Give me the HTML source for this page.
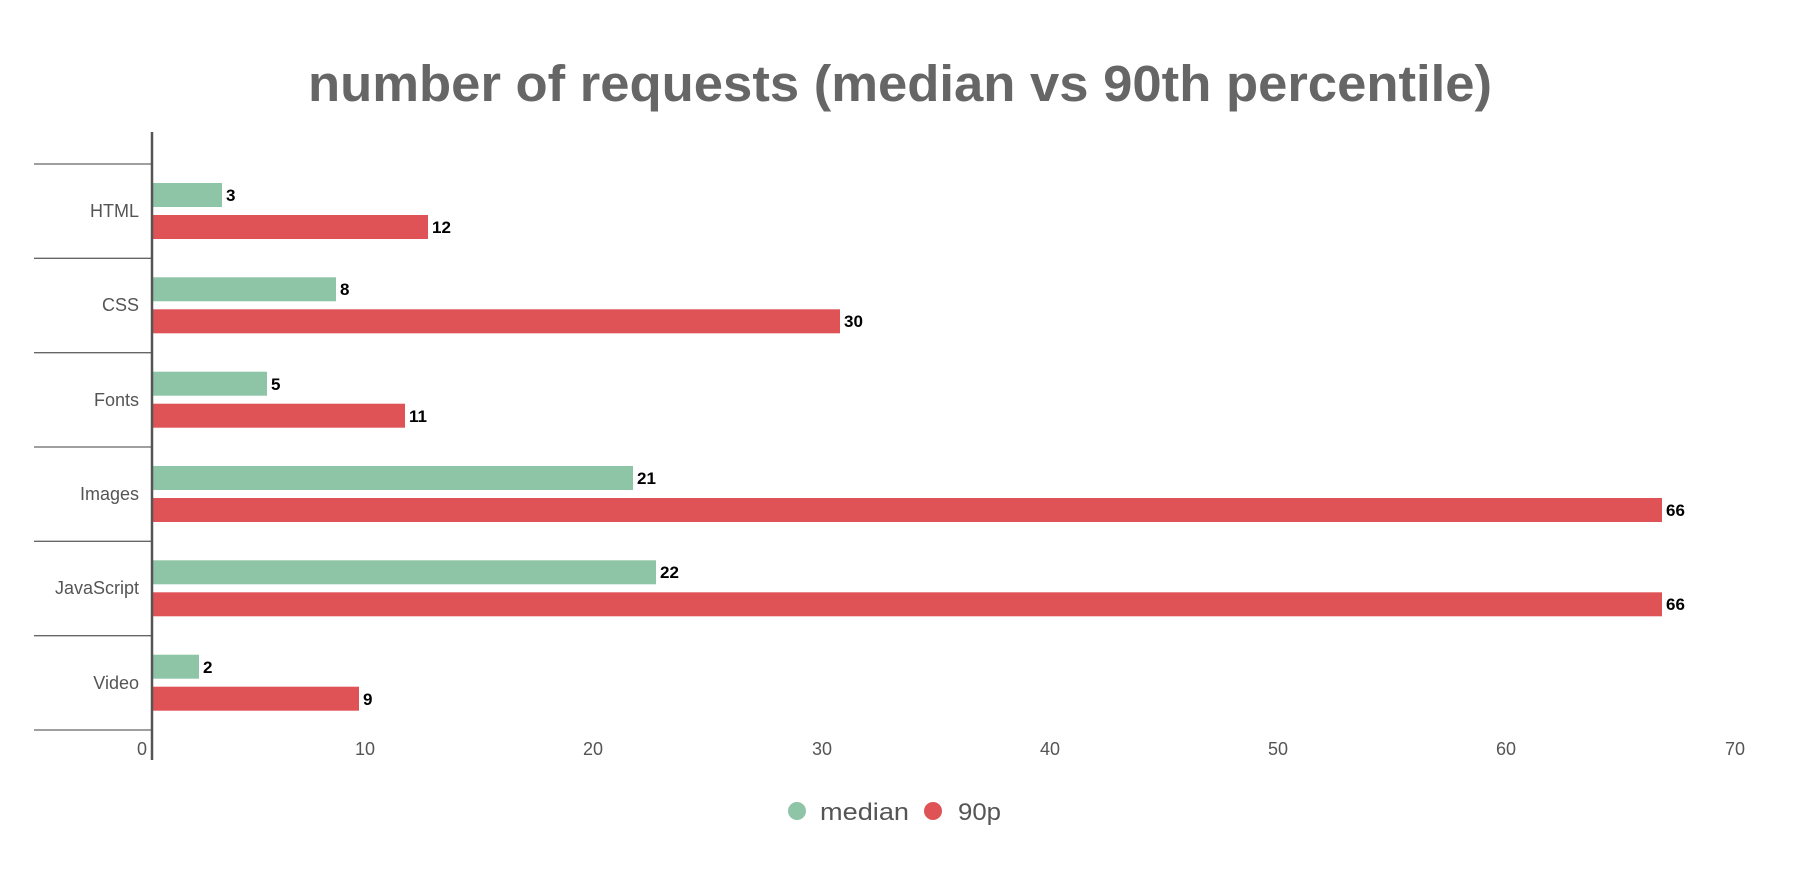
<!DOCTYPE html>
<html><head><meta charset="utf-8"><style>
body{margin:0;background:#fff;}
svg{display:block;font-family:"Liberation Sans",sans-serif;}
</style></head><body>
<svg width="1800" height="873" viewBox="0 0 1800 873">
<text x="900" y="101" text-anchor="middle" font-size="51" font-weight="bold" fill="#666" textLength="1184" lengthAdjust="spacingAndGlyphs">number of requests (median vs 90th percentile)</text>
<g stroke="#666" stroke-width="1.3">
<line x1="34" y1="164" x2="152" y2="164"/>
<line x1="34" y1="258.3" x2="152" y2="258.3"/>
<line x1="34" y1="352.7" x2="152" y2="352.7"/>
<line x1="34" y1="447" x2="152" y2="447"/>
<line x1="34" y1="541.3" x2="152" y2="541.3"/>
<line x1="34" y1="635.7" x2="152" y2="635.7"/>
<line x1="34" y1="730" x2="152" y2="730"/>
</g>
<g font-size="18" fill="#555" text-anchor="end">
<text x="139" y="217">HTML</text>
<text x="139" y="311">CSS</text>
<text x="139" y="406">Fonts</text>
<text x="139" y="500">Images</text>
<text x="139" y="594">JavaScript</text>
<text x="139" y="689">Video</text>
</g>
<g>
<rect x="152" y="183" width="70" height="24" fill="#8fc5a7"/>
<rect x="152" y="215" width="276" height="24" fill="#df5357"/>
<rect x="152" y="277.3" width="184" height="24" fill="#8fc5a7"/>
<rect x="152" y="309.3" width="688" height="24" fill="#df5357"/>
<rect x="152" y="371.7" width="115" height="24" fill="#8fc5a7"/>
<rect x="152" y="403.7" width="253" height="24" fill="#df5357"/>
<rect x="152" y="466" width="481" height="24" fill="#8fc5a7"/>
<rect x="152" y="498" width="1510" height="24" fill="#df5357"/>
<rect x="152" y="560.3" width="504" height="24" fill="#8fc5a7"/>
<rect x="152" y="592.3" width="1510" height="24" fill="#df5357"/>
<rect x="152" y="654.7" width="47" height="24" fill="#8fc5a7"/>
<rect x="152" y="686.7" width="207" height="24" fill="#df5357"/>
</g>
<g font-size="17" font-weight="bold" fill="#000">
<text x="226" y="201">3</text>
<text x="432" y="233">12</text>
<text x="340" y="295">8</text>
<text x="844" y="327">30</text>
<text x="271" y="390">5</text>
<text x="409" y="422">11</text>
<text x="637" y="484">21</text>
<text x="1666" y="516">66</text>
<text x="660" y="578">22</text>
<text x="1666" y="610">66</text>
<text x="203" y="673">2</text>
<text x="363" y="705">9</text>
</g>
<line x1="152" y1="132" x2="152" y2="760" stroke="#555" stroke-width="2.5"/>
<g font-size="18" fill="#555" text-anchor="end">
<text x="147" y="755">0</text>
<text x="375" y="755">10</text>
<text x="603" y="755">20</text>
<text x="832" y="755">30</text>
<text x="1060" y="755">40</text>
<text x="1288" y="755">50</text>
<text x="1516" y="755">60</text>
<text x="1745" y="755">70</text>
</g>
<circle cx="797" cy="811" r="9" fill="#8fc5a7"/>
<text x="820" y="820" font-size="24" fill="#555" textLength="89" lengthAdjust="spacingAndGlyphs">median</text>
<circle cx="933" cy="811" r="9" fill="#df5357"/>
<text x="958" y="820" font-size="24" fill="#555" textLength="43" lengthAdjust="spacingAndGlyphs">90p</text>
</svg>
</body></html>
